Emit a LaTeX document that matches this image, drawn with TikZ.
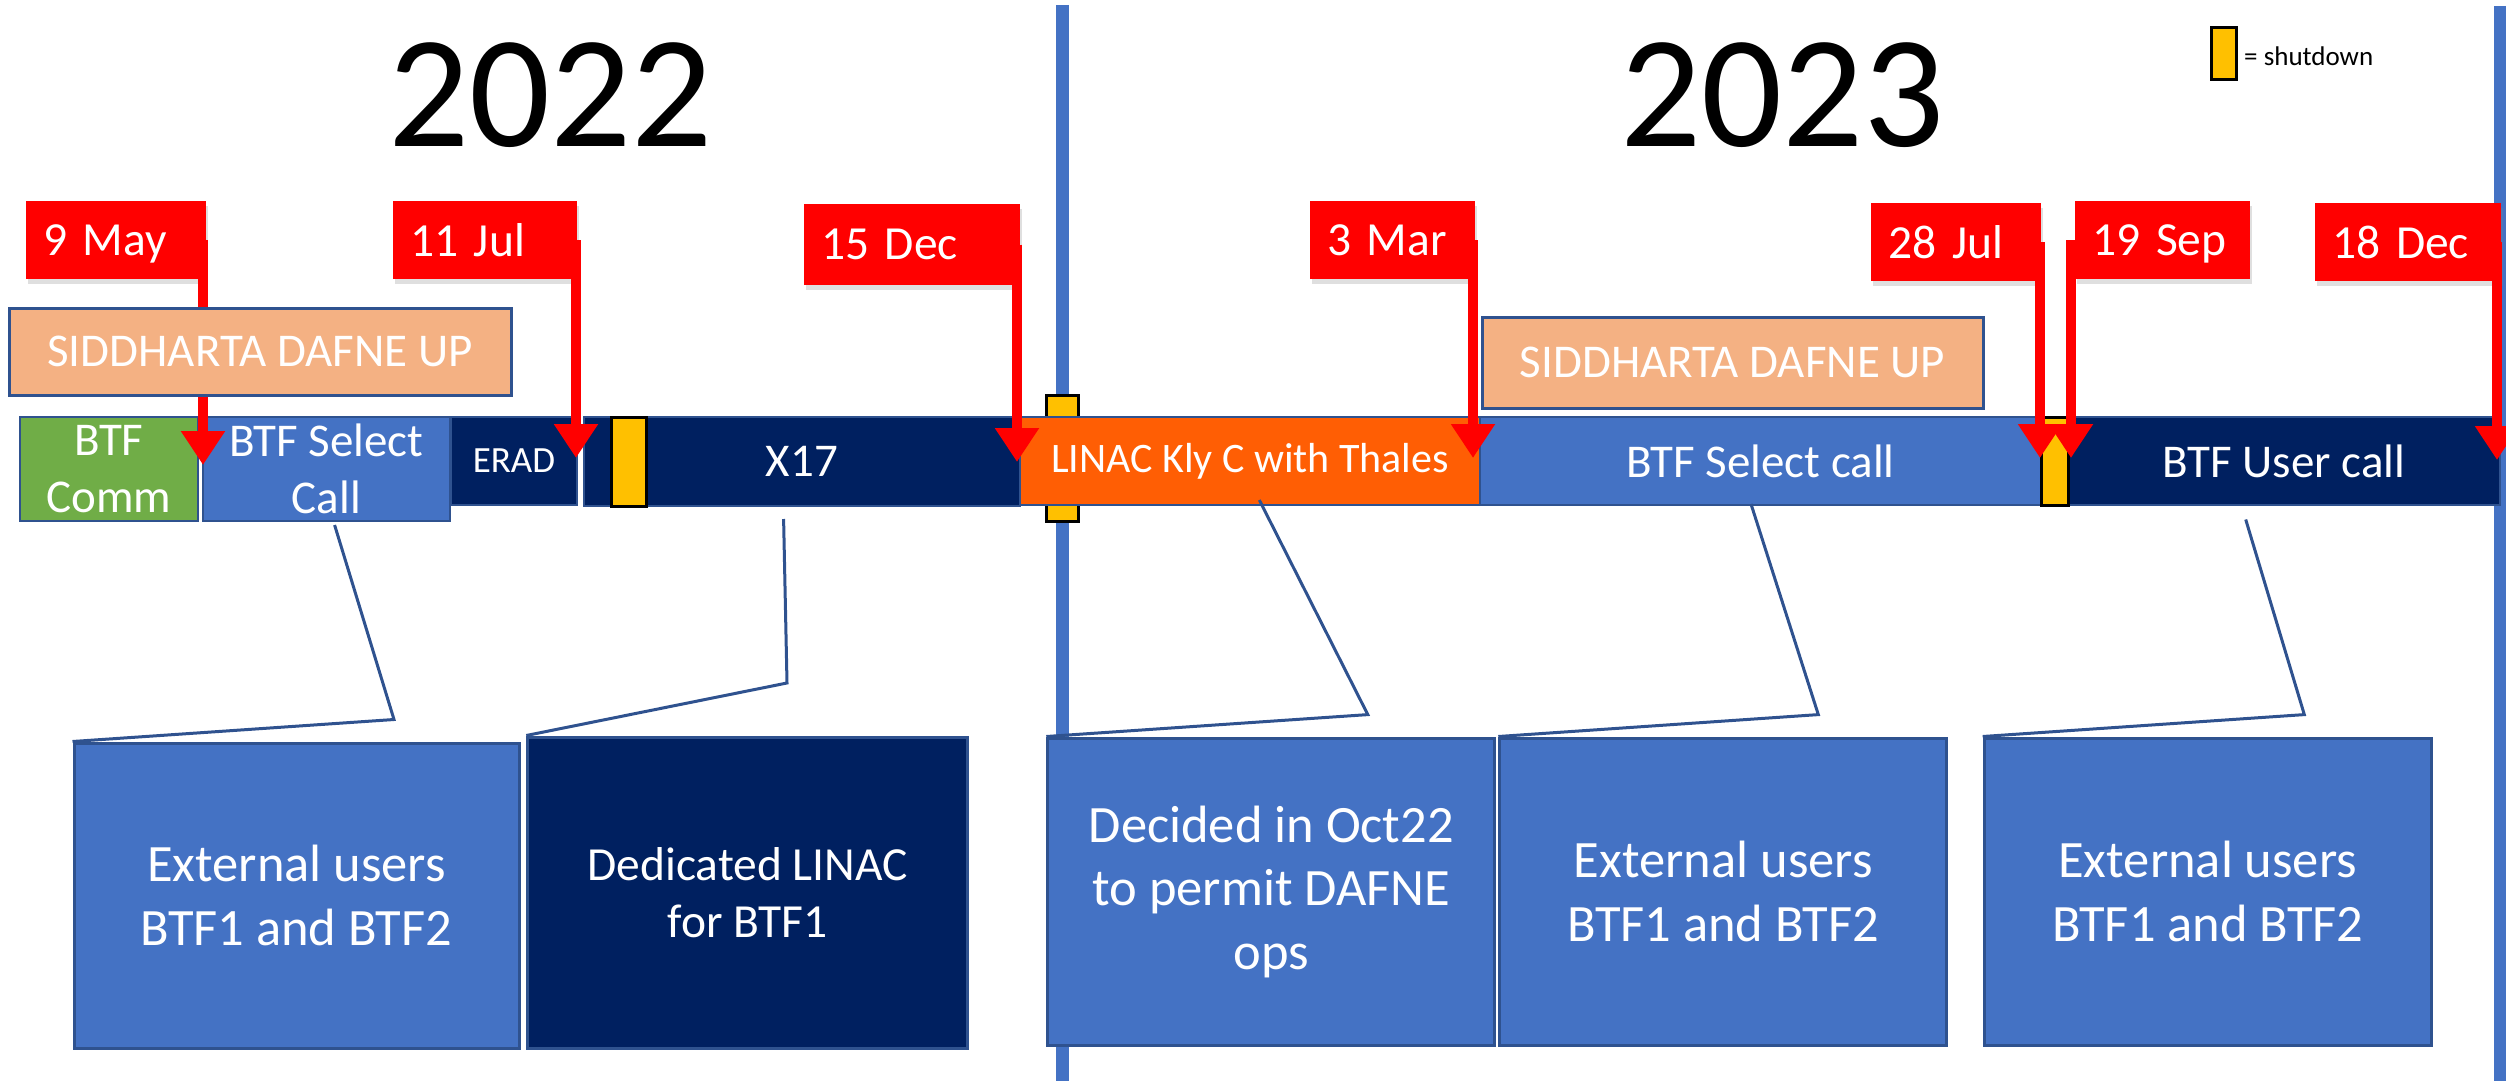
\documentclass[tikz,border=0pt]{standalone}
\usepackage{fontspec}
\setmainfont{Carlito}
\usetikzlibrary{arrows.meta,shadows,positioning}
\definecolor{btfblue}{HTML}{4472C4}
\definecolor{edgeblue}{HTML}{2F528F}
\definecolor{navy}{HTML}{002060}
\definecolor{klyorange}{HTML}{FF5E04}
\definecolor{commgreen}{HTML}{70AD47}
\definecolor{salmon}{HTML}{F4B183}
\definecolor{gold}{HTML}{FFC000}

\tikzset{
  period/.style={draw=edgeblue, line width=2pt, text=white, inner sep=0pt, align=center, font=\fontsize{47}{57}\selectfont},
  stop/.style={draw=black, line width=3pt, fill=gold, inner sep=0pt},
  datebox/.style={fill=red, text=white, inner xsep=17pt, inner ysep=0pt, align=left, text depth=0pt,
    font=\fontsize{47.5}{57}\selectfont, drop shadow={shadow xshift=2pt, shadow yshift=-5pt, opacity=0.25}},
  datearrow/.style={draw=red, line width=10pt, -{Triangle[length=34pt,width=42pt]}},
  dafne/.style={draw=edgeblue, line width=3pt, fill=salmon, text=white, inner sep=0pt, font=\fontsize{47}{57}\selectfont},
  note/.style={draw=edgeblue, line width=3pt, fill=btfblue, text=white, align=center, inner sep=0pt, font=\fontsize{52.5}{63.5}\selectfont},
  callout/.style={draw=edgeblue, line width=3pt},
  yearline/.style={draw=btfblue, line width=13pt},
}

\begin{document}
\begin{tikzpicture}[x=1pt, y=-1pt]
  \useasboundingbox (0,0) rectangle (2506,1081);
  \draw[yearline] (1062,5) -- (1062,1081);
  \draw[yearline, line width=12pt] (2500,6) -- (2500,1081);

  \node[font=\fontsize{160}{192}\selectfont, inner sep=0pt] (y22) at (550.5,94.7) {2022};
  \node[font=\fontsize{160}{192}\selectfont, inner sep=0pt] (y23) at (1782.5,94.7) {2023};
  \node[stop, minimum width=25, minimum height=52] (leg) at (2223.5,54) {};
  \node[anchor=west, inner sep=0pt, font=\fontsize{27}{32}\selectfont] (legtxt) at (2244,56) {= shutdown};

  \node[stop, minimum width=32, minimum height=126] (s2) at (1062,458) {};

  \node[period, fill=commgreen, minimum width=178, minimum height=104] (comm) at (109,469) {BTF\\Comm};
  \node[period, fill=btfblue, minimum width=247, minimum height=104] (sel1) at (326.5,469) {BTF Select\\Call};
  \node[period, fill=navy, minimum width=126, minimum height=88, font=\fontsize{37}{44}\selectfont] (erad) at (514,461) {ERAD};
  \node[period, fill=navy, minimum width=436, minimum height=89] (x17) at (802,461.5) {X17};
  \node[period, fill=klyorange, minimum width=460, minimum height=88, font=\fontsize{42}{50}\selectfont] (kly) at (1250,461) {LINAC Kly C with Thales};
  \node[period, fill=btfblue, minimum width=561, minimum height=88] (sel2) at (1760.5,461) {BTF Select call};
  \node[period, fill=navy, minimum width=432, minimum height=88] (user) at (2284,461) {BTF User call};

  \node[stop, minimum width=35, minimum height=89] (s1) at (628.5,461.5) {};
  \node[stop, minimum width=27, minimum height=88] (s3) at (2054.5,461) {};

  \node[note, minimum width=445, minimum height=305] (ext1) at (296.5,895.5) {External users\\BTF1 and BTF2};
  \node[note, fill=navy, minimum width=440, minimum height=311, font=\fontsize{47.5}{57.5}\selectfont] (lin) at (747.75,892.5) {Dedicated LINAC\\for BTF1};
  \node[note, minimum width=447, minimum height=307] (oct) at (1271.3,891.5) {Decided in Oct22\\to permit DAFNE\\ops};
  \node[note, minimum width=447, minimum height=307, right=2pt of oct] (ext2) {External users\\BTF1 and BTF2};
  \node[note, minimum width=447, minimum height=307] (ext3) at (2207.7,891.5) {External users\\BTF1 and BTF2};

  \coordinate (ca) at (334.6,525);  \coordinate (ka) at (394,719.5);
  \coordinate (cb) at (783.6,519);  \coordinate (kb) at (787,683);
  \coordinate (cc) at (1259.3,500); \coordinate (kc) at (1367.8,714.6);
  \coordinate (cd) at (1751,504);   \coordinate (kd) at (1818.3,714.6);
  \coordinate (ce) at (2245.7,519.5); \coordinate (ke) at (2304.3,714.6);
  \draw[callout] (ca) -- (ka) -- (ext1.north west);
  \draw[callout] (cb) -- (kb) -- (lin.north west);
  \draw[callout] (cc) -- (kc) -- (oct.north west);
  \draw[callout] (cd) -- (kd) -- (ext2.north west);
  \draw[callout] (ce) -- (ke) -- (ext3.north west);

  \node[datebox, minimum height=78, text width=146pt] (may9) at (116,240) {9 May};
  \node[datebox, minimum height=78, text width=150pt] (jul11) at (485,240) {11 Jul};
  \node[datebox, minimum height=81, text width=182pt] (dec15) at (912,244.5) {15 Dec};
  \node[datebox, minimum height=78, text width=131pt] (mar3) at (1392.5,240) {3 Mar};
  \node[datebox, minimum height=78, text width=136pt] (jul28) at (1956,242) {28 Jul};
  \node[datebox, minimum height=78, text width=141pt] (sep19) at (2162.5,240) {19 Sep};
  \node[datebox, minimum height=78, text width=152pt] (dec18) at (2408,242) {18 Dec};

  \coordinate (t1) at (203,465);
  \coordinate (t2) at (576,458);
  \coordinate (t3) at (1017,462);
  \coordinate (t4) at (1473,458);
  \coordinate (t5) at (2040,458);
  \coordinate (t6) at (2071,458);
  \coordinate (t7) at (2497,460);
  \foreach \d/\t in {may9.east/t1, jul11.east/t2, dec15.east/t3, mar3.east/t4,
                     jul28.east/t5, sep19.west/t6, dec18.east/t7}
    \draw[datearrow] (\d -| \t) -- (\t);

  \node[dafne, minimum width=502, minimum height=87] (sid1) at (260,351.5) {SIDDHARTA DAFNE UP};
  \node[dafne, minimum width=501, minimum height=91] (sid2) at (1732.5,362.5) {SIDDHARTA DAFNE UP};
\end{tikzpicture}
\end{document}
